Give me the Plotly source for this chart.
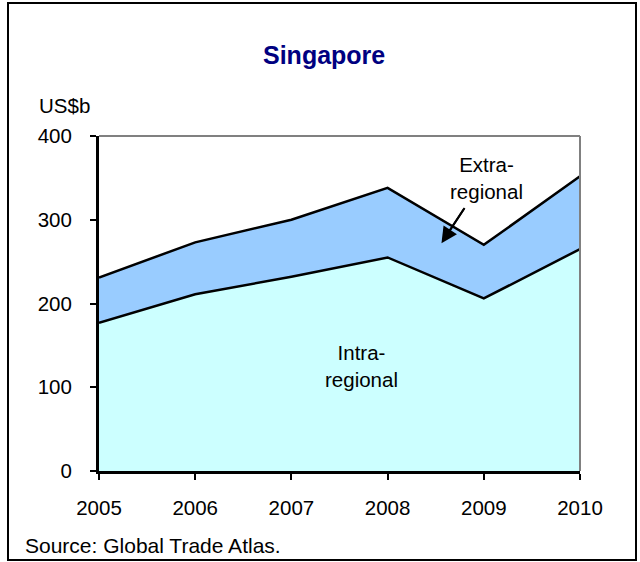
import plotly.graph_objects as go

years = [2005, 2006, 2007, 2008, 2009, 2010]
intra_regional = [177, 211, 232, 255, 206, 265]
extra_regional = [54, 62, 68, 83, 64, 87]
y_ticks = [0, 100, 200, 300, 400]

L, R, T, B = 99, 580, 136, 471
W, H = 640, 562
pw, ph = R - L, B - T

def px(x):
    return (x - L) / pw

def py(y):
    return (B - y) / ph

FAM = "Liberation Sans, Arial, sans-serif"
font = dict(family=FAM, size=20.5, color="black")

fig = go.Figure()
fig.add_trace(go.Scatter(x=years, y=intra_regional, stackgroup="s", mode="lines",
                         line=dict(color="black", width=2.5), fillcolor="#CCFFFF",
                         name="Intra-regional"))
fig.add_trace(go.Scatter(x=years, y=extra_regional, stackgroup="s", mode="lines",
                         line=dict(color="black", width=2.5), fillcolor="#99CCFF",
                         name="Extra-regional"))

fig.update_layout(
    width=W, height=H,
    margin=dict(l=L, r=W - R, t=T, b=H - B),
    plot_bgcolor="white", paper_bgcolor="white",
    showlegend=False,
    font=font,
    xaxis=dict(range=[2005, 2010], tickvals=years, ticktext=[str(y) for y in years],
               showgrid=False, zeroline=False, showline=True, linecolor="black", linewidth=3,
               ticks="outside", ticklen=6, tickwidth=2, tickcolor="black", tickfont=font,
               ticklabelstandoff=10),
    yaxis=dict(range=[0, 400], tickvals=y_ticks, showgrid=False, zeroline=False,
               showline=True, linecolor="black", linewidth=3,
               ticks="outside", ticklen=6, tickwidth=2, tickcolor="black", tickfont=font,
               ticklabelstandoff=14),
    shapes=[
        dict(type="line", xref="paper", yref="paper", x0=0, x1=1, y0=1, y1=1,
             line=dict(color="#808080", width=2), layer="above"),
        dict(type="line", xref="paper", yref="paper", x0=1, x1=1, y0=0, y1=1,
             line=dict(color="#808080", width=2), layer="above"),
        dict(type="rect", xref="paper", yref="paper",
             x0=px(8), x1=px(636), y0=py(560), y1=py(3),
             line=dict(color="black", width=2), fillcolor="rgba(0,0,0,0)"),
        # arrow shaft
        dict(type="line", xref="x", yref="y", x0=2008.80, y0=314, x1=2008.61, y1=281,
             line=dict(color="black", width=2), layer="above"),
    ],
    annotations=[
        dict(text="<b>Singapore</b>", xref="paper", yref="paper", x=px(324), y=py(55),
             xanchor="center", yanchor="middle",
             showarrow=False, font=dict(family=FAM, size=25, color="#000080")),
        dict(text="US$b", xref="paper", yref="paper", x=px(37), y=py(105),
             xanchor="left", yanchor="middle", showarrow=False, font=font),
        dict(text="Intra-<br>regional", x=2007.73, y=125, xanchor="center", yanchor="middle",
             showarrow=False, font=font),
        dict(text="Extra-<br>regional", x=2009.03, y=350, xanchor="center", yanchor="middle",
             showarrow=False, font=font),
        dict(text="Source: Global Trade Atlas.", xref="paper", yref="paper", x=px(23), y=py(545),
             xanchor="left", yanchor="middle", showarrow=False,
             font=dict(family=FAM, size=21, color="black")),
        dict(x=2008.56, y=272, xref="x", yref="y", ax=2008.80, ay=314,
             axref="x", ayref="y", text=" ", font=dict(size=1), borderpad=0,
             showarrow=True, arrowhead=2, arrowsize=1.6, arrowwidth=2, arrowcolor="black"),
    ],
)

fig.write_html("out.html", post_script="document.body.style.margin='0';",
               config={"displayModeBar": False})
